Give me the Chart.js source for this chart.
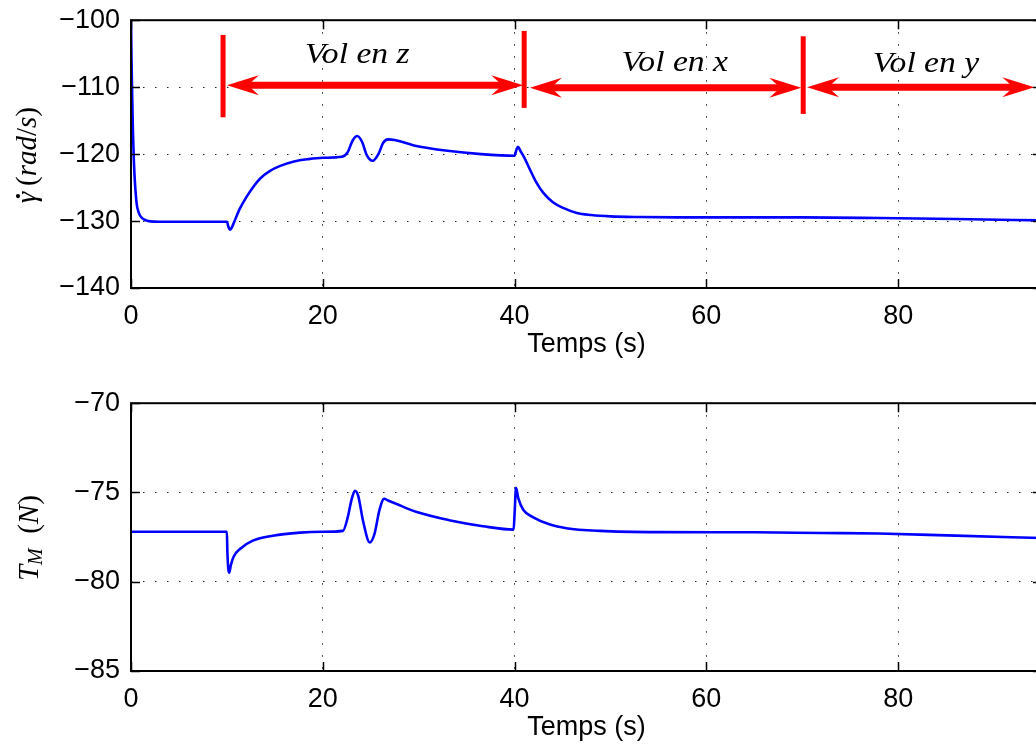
<!DOCTYPE html>
<html><head><meta charset="utf-8">
<script src="https://cdn.jsdelivr.net/npm/chart.js@4/dist/chart.umd.min.js"></script>
<style>
html,body{margin:0;padding:0;overflow:hidden;background:#fff;width:1036px;height:744px;position:relative}
canvas{position:absolute;left:0}
</style></head>
<body>
<canvas id="cTop" width="1060" height="379" style="top:-7px"></canvas>
<canvas id="cBot" width="1060" height="379" style="top:376px"></canvas>
<script>
// ---------- data ----------
const timeRate = [0,0.05,0.1,0.15,0.2,0.3,0.4,0.6,0.8,1.0,1.4,2.0,3.0,10.0,10.15,10.3,10.5,10.8,11.3,12.0,12.8,13.5,14.5,15.5,17.0,18.5,20.0,22.0,22.6,23.1,23.6,24.1,24.6,25.2,25.8,26.3,26.8,27.5,29.5,33,36.5,40.0,40.2,40.35,40.6,41.0,41.6,42.3,43.0,44.0,45.0,46.5,48,50,53,57,62,70,78,86,95];
const gammaDot = [-100,-105.5,-109.5,-113,-116.5,-121,-124,-127.5,-128.7,-129.3,-129.8,-130.05,-130.1,-130.1,-130.8,-131.3,-131.0,-130.0,-128.3,-126.5,-124.8,-123.6,-122.5,-121.8,-121.1,-120.75,-120.55,-120.4,-119.7,-118.0,-117.3,-118.2,-120.2,-121.0,-120.0,-118.3,-117.8,-117.9,-118.7,-119.5,-120.0,-120.25,-119.3,-118.9,-119.5,-120.5,-122.3,-124.3,-125.8,-127.2,-128.0,-128.8,-129.1,-129.3,-129.4,-129.45,-129.45,-129.45,-129.55,-129.7,-129.9];

const timeThrust = [0,10.0,10.05,10.15,10.25,10.4,10.7,11.4,12.7,14.8,17.6,20,22.1,22.6,23.0,23.35,23.7,24.2,24.9,25.4,25.9,26.4,26.8,27.5,29.8,33.3,36.7,39.9,40.0,40.15,40.4,40.9,41.95,43.7,45.4,48.9,55,65,72,78,86,95];
const thrust = [-77.2,-77.2,-78.3,-79.3,-79.5,-79.1,-78.6,-78.15,-77.7,-77.42,-77.25,-77.2,-77.15,-76.4,-75.4,-74.9,-75.2,-76.6,-77.8,-77.3,-76.0,-75.35,-75.45,-75.6,-76.1,-76.57,-76.89,-77.08,-76.2,-74.74,-75.35,-75.97,-76.39,-76.8,-77.0,-77.15,-77.22,-77.23,-77.27,-77.3,-77.42,-77.55];

const xTicks = [0,20,40,60,80];
const yTicksRate = [-140,-130,-120,-110,-100];
const yTicksThrust = [-85,-80,-75,-70];
const xLabel = 'Temps (s)';

// flight-phase annotations (data units)
const phaseLabels = ['Vol en z','Vol en x','Vol en y'];
const labelCenter = [23.6, 56.7, 82.9];
const labelBase = [-106.4, -107.6, -107.7];
const phaseBars = [9.6, 41.0, 70.1];
const barTop = [-102.2, -101.6, -102.4];
const barBottom = [-114.5, -113.1, -114.0];
const arrowStart = [10.0, 41.6, 70.5];
const arrowEnd = [40.9, 69.9, 94.2];
const arrowLevel = [-109.7, -110.1, -110.0];

// ---------- helpers ----------
const SANS = '"Liberation Sans", Arial, Helvetica, sans-serif';
const SERIF = '"Liberation Serif", "Times New Roman", serif';
const I29 = 'italic 29px ' + SERIF, R29 = '29px ' + SERIF, I20 = 'italic 20px ' + SERIF;
const minus = v => String(v).replace('-', '\u2212');

function mathLabel(ctx, parts, cx, cy) {
  ctx.save();
  ctx.translate(cx, cy);
  ctx.rotate(-Math.PI / 2);
  ctx.textBaseline = 'middle';
  ctx.textAlign = 'left';
  ctx.fillStyle = '#000';
  let w = 0;
  parts.forEach(p => { ctx.font = p[1]; w += ctx.measureText(p[0]).width; });
  let x = -w / 2;
  parts.forEach(p => {
    ctx.font = p[1];
    const pw = ctx.measureText(p[0]).width;
    ctx.fillText(p[0], x, p[2] || 0);
    if (p[3] === 'dot') { ctx.beginPath(); ctx.arc(x + pw * 0.62, -10, 2.1, 0, Math.PI * 2); ctx.fill(); }
    x += pw;
  });
  ctx.restore();
}

const framePlugin = {
  id: 'frame',
  afterDraw(chart) {
    const {ctx, chartArea: a, scales: {x, y}} = chart;
    ctx.save();
    ctx.strokeStyle = '#000';
    ctx.lineWidth = 1.5;
    ctx.beginPath();
    x.ticks.forEach(t => {
      const p = Math.round(x.getPixelForValue(t.value)) + 0.5;
      ctx.moveTo(p, a.bottom); ctx.lineTo(p, a.bottom - 9);
      ctx.moveTo(p, a.top); ctx.lineTo(p, a.top + 9);
    });
    y.ticks.forEach(t => {
      const p = Math.round(y.getPixelForValue(t.value)) + 0.5;
      ctx.moveTo(a.left, p); ctx.lineTo(a.left + 9, p);
      ctx.moveTo(a.right, p); ctx.lineTo(a.right - 9, p);
    });
    ctx.stroke();
    ctx.lineWidth = 2;
    ctx.strokeRect(a.left, a.top, a.right - a.left, a.bottom - a.top);
    const yl = chart.options.plugins.ylab;
    if (yl) mathLabel(ctx, yl.parts, yl.x, (a.top + a.bottom) / 2 + (yl.dy || 0));
    ctx.restore();
  }
};

const phasePlugin = {
  id: 'phases',
  afterDatasetsDraw(chart) {
    const {ctx, scales: {x, y}} = chart;
    ctx.save();
    ctx.fillStyle = '#ff0000';
    ctx.strokeStyle = '#ff0000';
    ctx.lineCap = 'butt';
    ctx.lineWidth = 5;
    phaseBars.forEach((t, i) => {
      const px = x.getPixelForValue(t);
      ctx.beginPath();
      ctx.moveTo(px, y.getPixelForValue(barTop[i]));
      ctx.lineTo(px, y.getPixelForValue(barBottom[i]));
      ctx.stroke();
    });
    const L = 32, W = 10, N = 21;
    function head(tx, ty, dir) {
      ctx.beginPath();
      ctx.moveTo(tx, ty);
      ctx.lineTo(tx + dir * L, ty - W);
      ctx.lineTo(tx + dir * N, ty);
      ctx.lineTo(tx + dir * L, ty + W);
      ctx.closePath();
      ctx.fill();
    }
    arrowStart.forEach((t, i) => {
      const x0 = x.getPixelForValue(t), x1 = x.getPixelForValue(arrowEnd[i]);
      const py = y.getPixelForValue(arrowLevel[i]);
      ctx.lineWidth = 7;
      ctx.beginPath(); ctx.moveTo(x0 + N, py); ctx.lineTo(x1 - N, py); ctx.stroke();
      head(x0, py, 1); head(x1, py, -1);
    });
    ctx.fillStyle = '#000';
    ctx.font = 'italic 30px ' + SERIF;
    ctx.textAlign = 'center';
    ctx.textBaseline = 'alphabetic';
    phaseLabels.forEach((s, i) => {
      ctx.save();
      ctx.translate(x.getPixelForValue(labelCenter[i]), y.getPixelForValue(labelBase[i]));
      ctx.scale(1.12, 1);
      ctx.fillText(s, 0, 0);
      ctx.restore();
    });
    ctx.restore();
  }
};

function makeChart(id, ts, vs, yTicks, ymin, ymax, ylab, extra) {
  return new Chart(document.getElementById(id), {
    type: 'line',
    data: {datasets: [{
      data: ts.map((t, i) => ({x: t, y: vs[i]})),
      borderColor: '#0000ff', borderWidth: 2.6, pointRadius: 0,
      cubicInterpolationMode: 'monotone', fill: false
    }]},
    options: {
      responsive: false, animation: false, devicePixelRatio: 1,
      layout: {padding: {top: 20, left: 0, right: 18, bottom: 0}},
      plugins: {legend: {display: false}, tooltip: {enabled: false}, ylab: ylab},
      scales: {
        x: {
          type: 'linear', min: 0, max: 95,
          afterBuildTicks: s => { s.ticks = xTicks.map(v => ({value: v})); },
          afterFit: s => { s.height = 84; },
          grid: {color: '#222', lineWidth: 1, drawTicks: false},
          border: {display: false, dash: [1.5, 10.5]},
          ticks: {color: '#000', font: {family: SANS, size: 27}, padding: 12, maxRotation: 0,
                  callback: v => minus(v)},
          title: {display: true, text: xLabel, color: '#000', font: {family: SANS, size: 27},
                  padding: {top: 0, bottom: 11}}
        },
        y: {
          type: 'linear', min: ymin, max: ymax,
          afterBuildTicks: s => { s.ticks = yTicks.map(v => ({value: v})); },
          afterFit: s => { s.width = 131; },
          grid: {color: '#222', lineWidth: 1, drawTicks: false},
          border: {display: false, dash: [1.5, 10.5]},
          ticks: {color: '#000', font: {family: SANS, size: 27}, padding: 11,
                  callback: v => minus(v)}
        }
      }
    },
    plugins: [framePlugin].concat(extra || [])
  });
}

makeChart('cTop', timeRate, gammaDot, yTicksRate, -140, -100,
  {x: 28, dy: 1, parts: [['\u03B3', I29, 0, 'dot'], ['\u2009(', R29], ['rad', I29], ['/', R29], ['s', I29], [')', R29]]},
  [phasePlugin]);
makeChart('cBot', timeThrust, thrust, yTicksThrust, -85, -70,
  {x: 30, dy: 1, parts: [['T', I29], ['M', I20, 7], ['\u2002(', R29], ['N', I29], [')', R29]]});
</script>
</body></html>
